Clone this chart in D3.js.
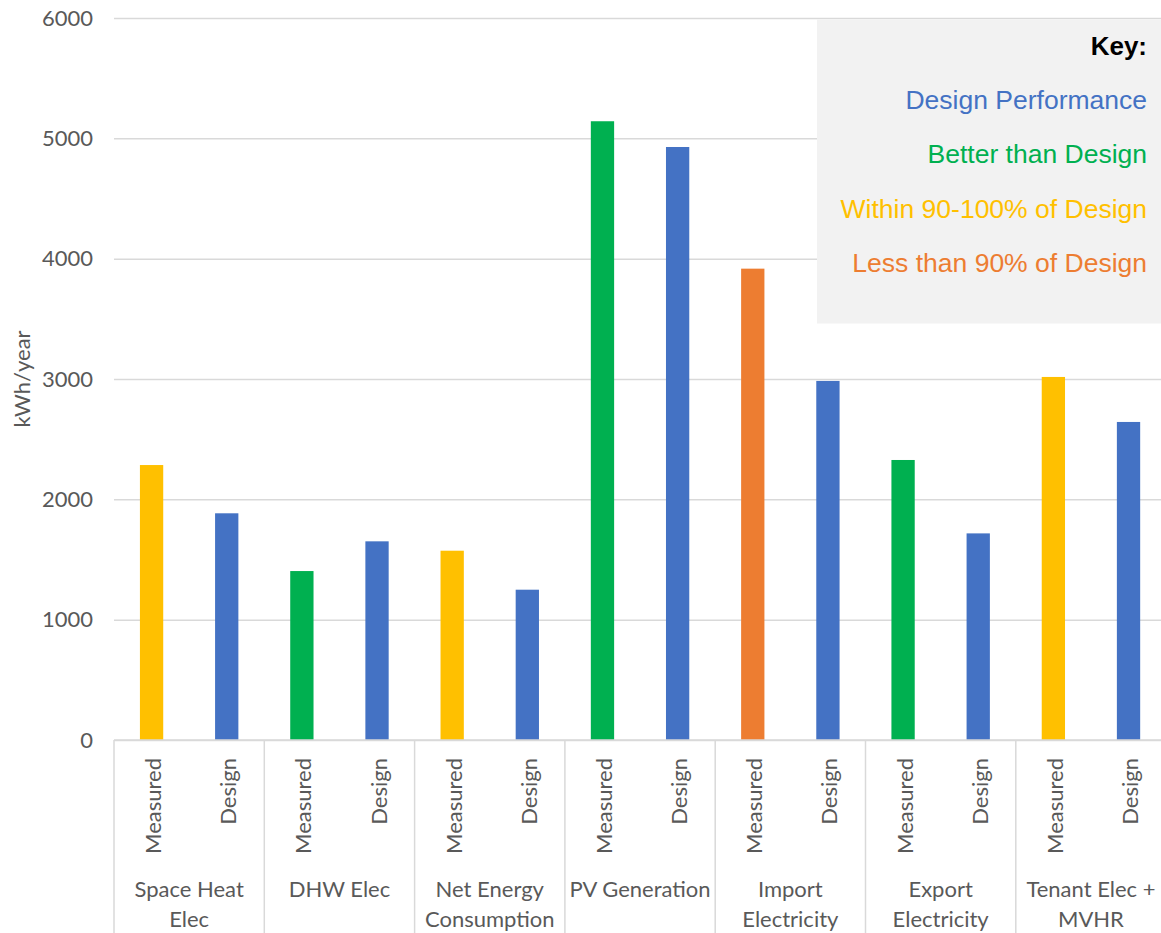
<!DOCTYPE html>
<html>
<head>
<meta charset="utf-8">
<script src="https://cdn.jsdelivr.net/npm/d3@7/dist/d3.min.js"></script>
<style>
  html, body { margin: 0; padding: 0; background: #fff; }
  svg { display: block; }
</style>
</head>
<body>
<svg id="chart" width="1161" height="933"></svg>
<script>
// Energy use categories, each shown as a measured and a design bar
const categories = [
  ["Space Heat", "Elec"],
  ["DHW Elec"],
  ["Net Energy", "Consumption"],
  ["PV Generation"],
  ["Import", "Electricity"],
  ["Export", "Electricity"],
  ["Tenant Elec +", "MVHR"]
];
const subgroups = ["Measured", "Design"];
const measuredValues = [2285, 1404, 1573, 5142, 3917, 2327, 3017];
const designValues   = [1884, 1651, 1249, 4928, 2984, 1717, 2643];
// Performance status of each measured bar
const measuredStatus = ["within", "better", "within", "better", "less", "better", "within"];
const yTicks = [0, 1000, 2000, 3000, 4000, 5000, 6000];
const keyTitle = "Key:";
const keyItems = [
  { key: "design", label: "Design Performance" },
  { key: "better", label: "Better than Design" },
  { key: "within", label: "Within 90-100% of Design" },
  { key: "less",   label: "Less than 90% of Design" }
];

const colors = {
  design: "#4472C4",
  better: "#00B050",
  within: "#FFC000",
  less:   "#ED7D31"
};

const svg = d3.select("#chart");
const margin = { left: 114, top: 18, bottom: 740 };
const plotRight = 114 + 7 * 150.3;
const labelFont = "Lato, 'Open Sans', sans-serif";
const textGrey = "#595959";
const gridColor = "#d9d9d9";

const x = d3.scaleBand()
  .domain(d3.range(categories.length))
  .range([margin.left, plotRight])
  .paddingInner(0)
  .paddingOuter(0);

const xSub = d3.scaleBand()
  .domain(subgroups)
  .range([0, x.bandwidth()])
  .paddingInner(0.69)
  .paddingOuter(0.345);

const y = d3.scaleLinear()
  .domain([0, 6000])
  .range([margin.bottom, margin.top]);

// Horizontal gridlines and value ticks
const yAxis = d3.axisLeft(y)
  .tickValues(yTicks)
  .tickSize(-(plotRight - margin.left))
  .tickPadding(21)
  .tickFormat(d3.format("d"));

const gy = svg.append("g")
  .attr("transform", `translate(${margin.left},0)`)
  .call(yAxis);
gy.select(".domain").remove();
gy.selectAll(".tick line")
  .attr("stroke", gridColor)
  .attr("stroke-width", 1.5);
gy.selectAll(".tick text")
  .attr("fill", textGrey)
  .style("font-family", labelFont)
  .style("font-size", "22px");

// Bars
const rows = categories.map((c, i) => ([
  { cat: i, sub: "Measured", value: measuredValues[i], color: colors[measuredStatus[i]] },
  { cat: i, sub: "Design", value: designValues[i], color: colors.design }
])).flat();

svg.append("g")
  .selectAll("rect")
  .data(rows)
  .join("rect")
  .attr("x", d => x(d.cat) + xSub(d.sub))
  .attr("width", xSub.bandwidth())
  .attr("y", d => y(d.value))
  .attr("height", d => y(0) - y(d.value))
  .attr("fill", d => d.color);

// Category axis: baseline and group separators
const axisG = svg.append("g");
axisG.append("line")
  .attr("x1", margin.left).attr("x2", plotRight)
  .attr("y1", y(0)).attr("y2", y(0))
  .attr("stroke", gridColor).attr("stroke-width", 1.5);

const boundaries = d3.range(categories.length + 1).map(i => margin.left + i * x.step());
axisG.selectAll("line.sep")
  .data(boundaries)
  .join("line")
  .attr("class", "sep")
  .attr("x1", d => d).attr("x2", d => d)
  .attr("y1", y(0)).attr("y2", 933)
  .attr("stroke", gridColor).attr("stroke-width", 1.5);

// Rotated sub-labels
axisG.selectAll("text.sub")
  .data(rows)
  .join("text")
  .attr("class", "sub")
  .attr("transform", d => `translate(${x(d.cat) + xSub(d.sub) + xSub.bandwidth() / 2 + 1},${758}) rotate(-90)`)
  .attr("text-anchor", "end")
  .attr("dominant-baseline", "central")
  .attr("fill", textGrey)
  .style("font-family", labelFont)
  .style("font-size", "22px")
  .text(d => d.sub);

// Group labels (one or two lines)
const groupText = axisG.selectAll("text.group")
  .data(categories)
  .join("text")
  .attr("class", "group")
  .attr("x", (d, i) => x(i) + x.bandwidth() / 2)
  .attr("y", 897)
  .attr("text-anchor", "middle")
  .attr("fill", textGrey)
  .style("font-family", labelFont)
  .style("font-size", "22px");
groupText.selectAll("tspan")
  .data((d, i) => d.map(line => ({ line, i })))
  .join("tspan")
  .attr("x", d => x(d.i) + x.bandwidth() / 2)
  .attr("dy", (d, j) => j === 0 ? 0 : 30)
  .text(d => d.line);

// Y axis title
svg.append("text")
  .attr("transform", `translate(21,379) rotate(-90)`)
  .attr("text-anchor", "middle")
  .attr("dominant-baseline", "central")
  .attr("fill", textGrey)
  .style("font-family", labelFont)
  .style("font-size", "22px")
  .text("kWh/year");

// Key panel
const keyG = svg.append("g");
keyG.append("rect")
  .attr("x", 817)
  .attr("y", 19.5)
  .attr("width", 400)
  .attr("height", 304)
  .attr("fill", "#f2f2f2");

const keyFont = "'Liberation Sans', Arial, sans-serif";
keyG.append("text")
  .attr("x", 1147)
  .attr("y", 54.5)
  .attr("text-anchor", "end")
  .attr("fill", "#000")
  .style("font-family", keyFont)
  .style("font-size", "26px")
  .style("font-weight", "bold")
  .text(keyTitle);

keyG.selectAll("text.item")
  .data(keyItems)
  .join("text")
  .attr("class", "item")
  .attr("x", 1147)
  .attr("y", (d, i) => 108.7 + i * 54.4)
  .attr("text-anchor", "end")
  .attr("fill", d => colors[d.key])
  .style("font-family", keyFont)
  .style("font-size", "26.5px")
  .text(d => d.label);
</script>
</body>
</html>
